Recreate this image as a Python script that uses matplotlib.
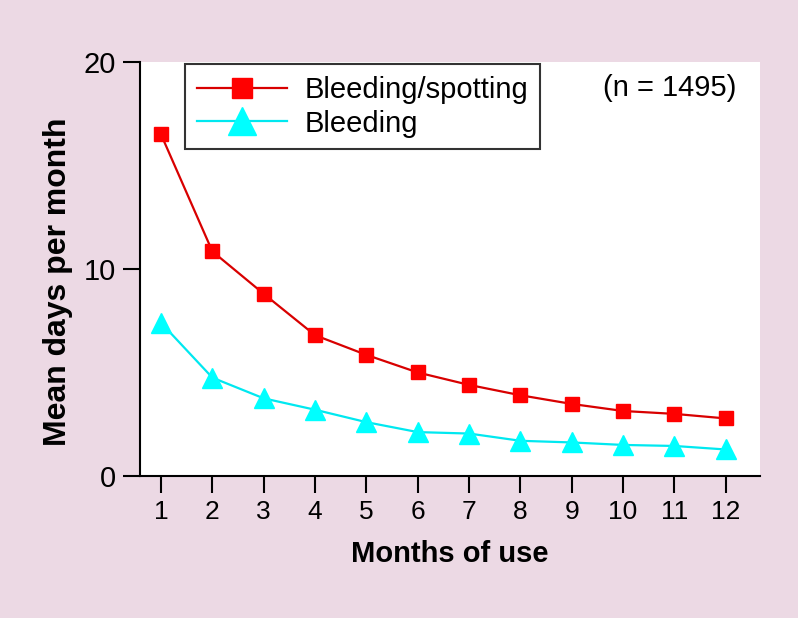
import matplotlib.pyplot as plt
import matplotlib.ticker as mticker

# data
months = [1, 2, 3, 4, 5, 6, 7, 8, 9, 10, 11, 12]
bleeding_spotting = [16.5, 10.85, 8.8, 6.8, 5.85, 5.0, 4.4, 3.9, 3.48, 3.14, 3.0, 2.78]
bleeding = [7.4, 4.75, 3.75, 3.2, 2.6, 2.12, 2.05, 1.7, 1.62, 1.5, 1.45, 1.28]

bg = "#ecd9e4"
plt.rcParams['font.family'] = ['Liberation Sans', 'DejaVu Sans']

fig = plt.figure(figsize=(7.98, 6.18), dpi=100, facecolor=bg)
ax = fig.add_axes([0.1754, 0.2298, 0.7766, 0.6699])
ax.set_facecolor("white")

ax.plot(months, bleeding_spotting, color="#d80000", lw=1.6, marker="s",
        markersize=10, markerfacecolor="#ff0000", markeredgecolor="#ff0000",
        label="Bleeding/spotting", clip_on=False)
ax.plot(months, bleeding, color="#00e8f0", lw=1.6, marker="^",
        markersize=14, markerfacecolor="#00ffff", markeredgecolor="#00ffff",
        label="Bleeding", clip_on=False)

ax.set_xlim(0.59, 12.66)
ax.set_ylim(0, 20)
ax.yaxis.set_major_locator(mticker.MultipleLocator(10))
ax.xaxis.set_major_locator(mticker.MultipleLocator(1))

for s in ["top", "right"]:
    ax.spines[s].set_visible(False)
for s in ["left", "bottom"]:
    ax.spines[s].set_linewidth(1.5)

ax.tick_params(direction="out", length=12, width=1.5, pad=5)
ax.tick_params(axis="x", labelsize=19)
ax.tick_params(axis="y", labelsize=21)

ax.set_xlabel("Months of use", fontsize=21, fontweight="bold", labelpad=12)
ax.set_ylabel("Mean days per month", fontsize=23, fontweight="bold")
ax.yaxis.set_label_coords(-0.108, 0.47)

leg = ax.legend(loc="upper left", bbox_to_anchor=(0.0726, 0.995), fontsize=21,
                frameon=True, fancybox=False, edgecolor="black",
                markerscale=1.45, handlelength=3.1, borderpad=0.4,
                labelspacing=0.2, handletextpad=0.6, borderaxespad=0)
leg.get_frame().set_linewidth(1.5)

ax.text(0.963, 0.937, "(n = 1495)", transform=ax.transAxes, fontsize=21,
        ha="right", va="center")

fig.savefig("out.png", dpi=100, facecolor=bg)
